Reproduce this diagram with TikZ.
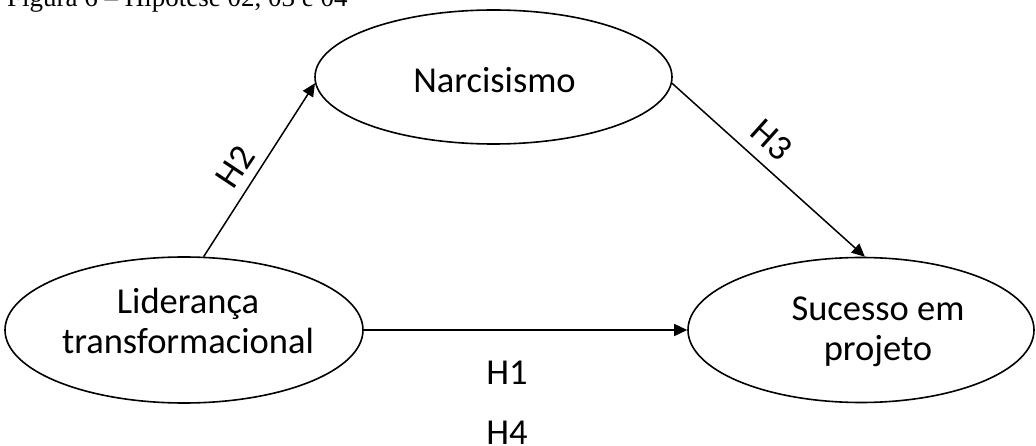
\documentclass[tikz,border=0pt]{standalone}
\usepackage{fontspec}
\setmainfont{Carlito}
\newfontfamily\titlefont{Liberation Serif}
\usetikzlibrary{shapes.geometric,arrows.meta}
\begin{document}
\begin{tikzpicture}[x=1pt,y=-1pt,
  ell/.style={ellipse,draw,line width=1.6pt,inner sep=0pt},
  txt/.style={anchor=base,inner sep=0pt,font=\fontsize{36.5}{40}\selectfont},
  arr/.style={line width=1.5pt,-{Triangle[length=13pt,width=12pt]}},
  hlab/.style={font=\fontsize{36.5}{40}\selectfont,inner sep=0pt}]
\useasboundingbox (0,0) rectangle (1036,446);
\clip (0,0) rectangle (1036,446);
\node[anchor=base west,inner sep=0pt,font=\titlefont\fontsize{27}{30}\selectfont] (title) at (7,6.5) {Figura 6 – Hipótese 02, 03 e 04};
\node[ell,minimum width=357pt,minimum height=134pt] (narc) at (493.5,77) {};
\node[ell,minimum width=358pt,minimum height=146pt] (lid) at (184,330) {};
\node[ell,minimum width=346pt,minimum height=145pt] (suc) at (861,330) {};
\node[txt] (narct) at (494.5,93) {Narcisismo};
\node[txt] (lidt1) at (188,313) {Liderança};
\node[txt] (lidt2) at (188,353) {transformacional};
\node[txt] (suct1) at (878,320) {Sucesso em};
\node[txt] (suct2) at (878,360) {projeto};
\draw[arr] (lid.75) -- (narc.182);
\draw[arr] (narc.-2) -- (suc.87);
\draw[arr] (lid.east) -- (suc.west);
\node[hlab,rotate=56.4] (h2) at (235,167) {H2};
\node[hlab,rotate=-41.9] (h3) at (772,140) {H3};
\node[hlab] (h1) at (507,373) {H1};
\node[hlab] (h4) at (507,433) {H4};
\end{tikzpicture}
\end{document}
